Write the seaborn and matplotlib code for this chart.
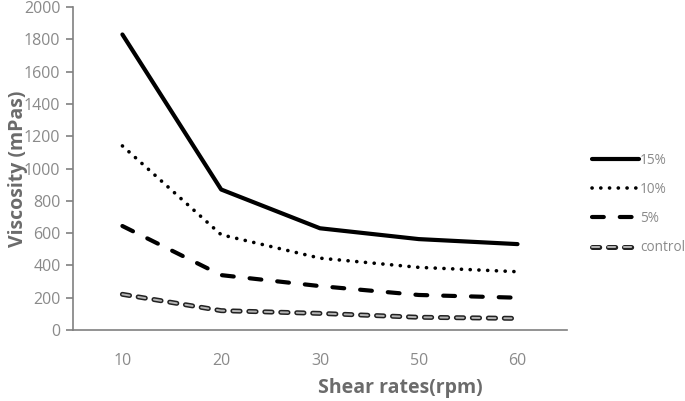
import seaborn as sns
import matplotlib.pyplot as plt
from matplotlib.legend_handler import HandlerTuple
import pandas as pd

rates = ['10', '20', '30', '50', '60']
v15 = [1830, 870, 630, 563, 532]
v10 = [1140, 590, 445, 388, 361]
v5 = [644, 340, 272, 217, 200]
vcontrol = [221, 120, 103, 79, 72]

df = pd.DataFrame({'rate': rates, '15%': v15, '10%': v10, '5%': v5, 'control': vcontrol})
df_melt = df.melt(id_vars='rate', var_name='group', value_name='viscosity')

sns.set_style("white")
plt.rcParams['font.family'] = ['Open Sans', 'DejaVu Sans']
plt.rcParams['lines.scale_dashes'] = False  # dash lengths in points

fig = plt.figure(figsize=(6.85, 4.01), dpi=100)
ax = fig.add_axes([0.1066, 0.177, 0.721, 0.8055])

styles = {
    '15%': dict(color='black', lw=3.0, ls='-'),
    '10%': dict(color='black', lw=2.6, ls=(0, (0.1, 6.2)), dash_capstyle='round'),
    '5%': dict(color='black', lw=3.0, ls=(0, (8.5, 11.5)), dash_capstyle='round'),
}

handles = []
for g in ['15%', '10%', '5%']:
    sub = df_melt[df_melt['group'] == g]
    sns.lineplot(data=sub, x='rate', y='viscosity', ax=ax, **styles[g])
    handles.append(ax.lines[-1])

# control: dark outlined capsules with grey centre
sub = df_melt[df_melt['group'] == 'control']
sns.lineplot(data=sub, x='rate', y='viscosity', ax=ax, color='#222222', lw=3.6,
             ls=(0, (5.2, 6.3)), dash_capstyle='round')
outer = ax.lines[-1]
sns.lineplot(data=sub, x='rate', y='viscosity', ax=ax, color='#b5b5b5', lw=1.4,
             ls=(0, (5.2, 6.3)), dash_capstyle='round')
inner = ax.lines[-1]
handles.append((outer, inner))

ax.set_xlim(-0.5, 4.5)
ax.set_ylim(0, 2000)
ax.set_yticks(range(0, 2001, 200))

grey = '#8a8a8a'
for s in ['top', 'right']:
    ax.spines[s].set_visible(False)
for s in ['left', 'bottom']:
    ax.spines[s].set_color('#808080')
    ax.spines[s].set_linewidth(1.2)

ax.tick_params(axis='y', left=True, length=5, width=1.2, color='#808080', labelcolor=grey, labelsize=11.5, pad=4)
ax.tick_params(axis='x', bottom=False, labelcolor=grey, labelsize=11.5, pad=13)

ax.set_xlabel('Shear rates(rpm)', fontsize=14, fontweight='bold', color='#6b6b6b')
ax.set_ylabel('Viscosity (mPas)', fontsize=14, fontweight='bold', color='#6b6b6b')
ax.xaxis.set_label_coords(0.662, -0.148)
ax.yaxis.set_label_coords(-0.092, 0.5)

leg = ax.legend(handles, ['15%', '10%', '5%', 'control'],
                handler_map={tuple: HandlerTuple(ndivide=1, pad=0)},
                loc='upper left', bbox_to_anchor=(0.857, 0.633), bbox_transform=fig.transFigure,
                frameon=False, fontsize=9.8, handlelength=3.4, handletextpad=0.1, labelspacing=1.05,
                borderaxespad=0)
for t in leg.get_texts():
    t.set_color(grey)

fig.savefig('out.png', dpi=100)
